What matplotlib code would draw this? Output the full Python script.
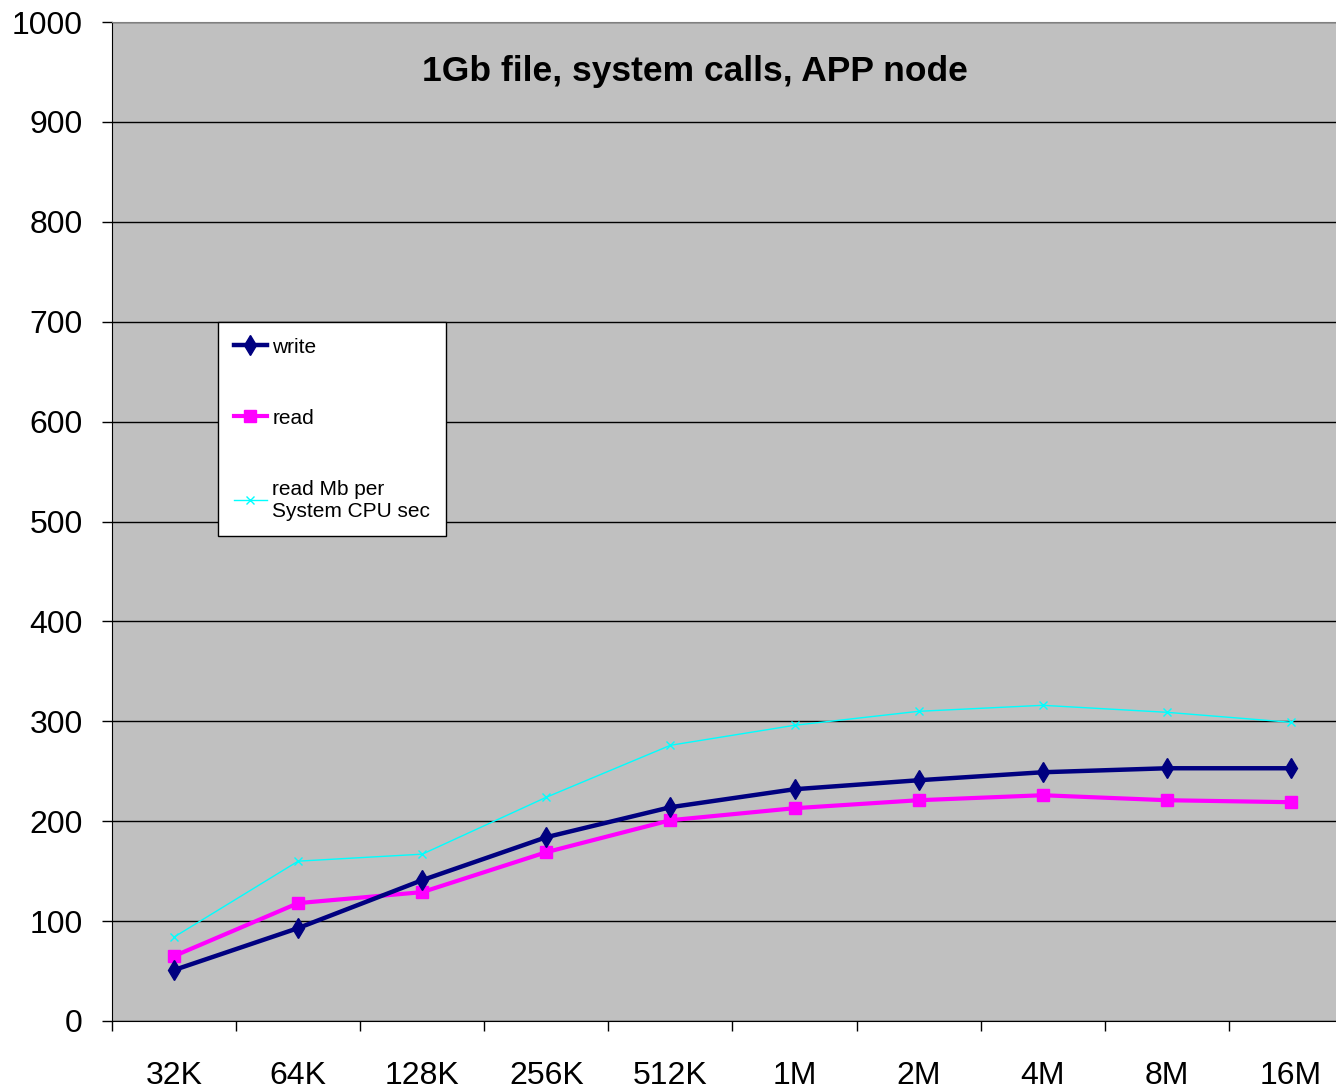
import matplotlib
matplotlib.use("Agg")
import matplotlib.pyplot as plt
import numpy as np

plt.rcParams['font.family'] = ['Liberation Sans', 'DejaVu Sans']

categories = ["32K", "64K", "128K", "256K", "512K", "1M", "2M", "4M", "8M", "16M"]
write = [51, 93, 141, 184, 214, 232, 241, 249, 253, 253]
read = [65, 118, 129, 169, 201, 213, 221, 226, 221, 219]
read_per_cpu = [84, 160, 167, 224, 276, 296, 310, 316, 309, 299]
yticks = list(range(0, 1001, 100))

W, H = 1336, 1089
fig = plt.figure(figsize=(W / 100, H / 100), dpi=100)
left, right, top, bottom = 112, 1353, 22, 1021
ax = fig.add_axes([left / W, 1 - bottom / H, (right - left) / W, (bottom - top) / H])
ax.set_facecolor("#C0C0C0")

x = np.arange(len(categories))
ax.plot(x, write, color="#000080", lw=3.2, marker="d", markersize=10.5, label="write", zorder=4)
ax.plot(x, read, color="#FF00FF", lw=3, marker="s", markersize=9, label="read", zorder=3)
ax.plot(x, read_per_cpu, color="#00FFFF", lw=1, marker="x", markersize=6, label="read Mb per\nSystem CPU sec", zorder=2)

ax.set_xlim(-0.5, len(categories) - 0.5)
ax.set_ylim(0, 1000)
ax.set_yticks(yticks)
ax.set_yticklabels([str(v) for v in yticks], fontsize=23)
ax.yaxis.grid(True, color="black", lw=1)
ax.set_axisbelow(True)

ax.set_xticks(x)
ax.set_xticklabels(categories, fontsize=23)
ax.tick_params(axis="x", which="major", length=0, pad=29)
ax.set_xticks(np.arange(-0.5, len(categories) + 0.5, 1), minor=True)
ax.tick_params(axis="x", which="minor", length=7, width=1, color="black", direction="out")
ax.tick_params(axis="y", length=7, width=1, direction="out", pad=14)

for s in ["top", "right"]:
    ax.spines[s].set_color("#808080")
ax.spines["left"].set_color("black")
ax.spines["bottom"].set_color("black")

fig.text(695 / W, 1 - 71 / H, "1Gb file, system calls, APP node", fontsize=25.5,
         fontweight="bold", ha="center", va="center")

leg = ax.legend(loc="upper left", bbox_to_anchor=((218 - left) / (right - left), 1 - (322 - top) / (bottom - top)),
                fontsize=15, frameon=True, fancybox=False, edgecolor="black", facecolor="white",
                framealpha=1, borderaxespad=0, labelspacing=2.5, handlelength=1.6, handletextpad=0.25,
                borderpad=0.75)
leg.get_frame().set_linewidth(1)

fig.savefig("out.png", dpi=100)
